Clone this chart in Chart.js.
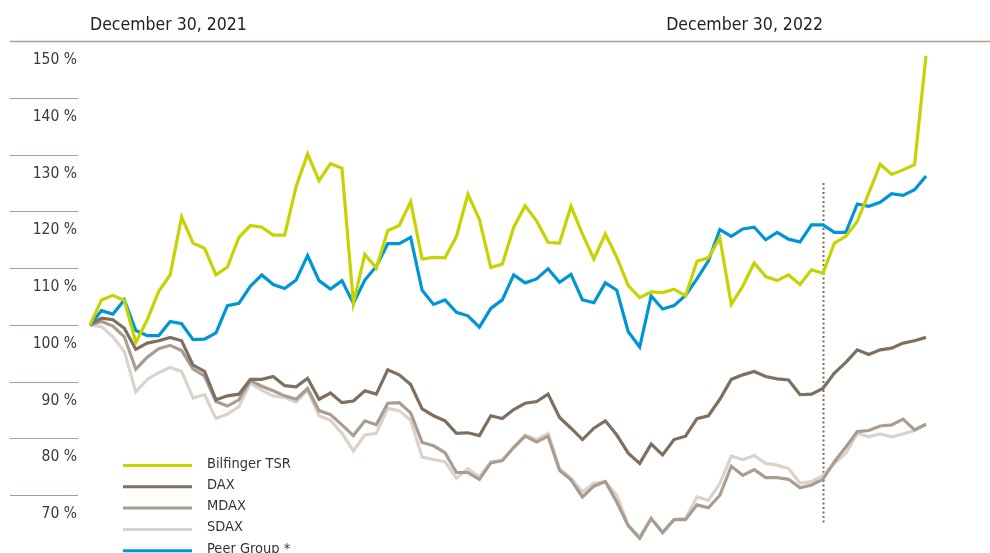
<!DOCTYPE html>
<html>
<head>
<meta charset="utf-8">
<script src="https://cdn.jsdelivr.net/npm/chart.js@4.4.0/dist/chart.umd.min.js"></script>
<style>
  html, body { margin: 0; padding: 0; background: #fff; }
  #wrap { width: 990px; height: 553px; position: relative; }
</style>
</head>
<body>
<div id="wrap"><canvas id="tsrChart"></canvas></div>
<script>
// Weekly index values, 100 % = December 30, 2021
const weeks = Array.from({ length: 74 }, (_, i) => "W" + i);
const bilfinger = [100, 104.4, 105.2, 104.3, 96.9, 100.9, 105.9, 108.8, 119.0, 114.4, 113.5, 108.8, 110.2, 115.4, 117.5, 117.2, 115.8, 115.8, 124.4, 130.1, 125.4, 128.4, 127.6, 103.8, 112.4, 110.0, 116.6, 117.5, 121.7, 111.6, 111.9, 111.8, 115.6, 123.0, 118.6, 110.1, 110.7, 117.2, 121.0, 118.3, 114.5, 114.4, 120.9, 116.0, 111.6, 116.0, 111.9, 106.9, 104.8, 105.8, 105.7, 106.3, 105.1, 111.2, 111.8, 115.3, 103.6, 106.8, 110.9, 108.5, 107.8, 108.8, 107.1, 109.7, 109.1, 114.4, 115.6, 118.2, 123.2, 128.3, 126.5, 127.3, 128.2, 147.4];
const dax = [100, 101.2, 100.9, 99.4, 95.7, 96.8, 97.2, 97.8, 97.2, 92.9, 91.8, 86.8, 87.5, 87.8, 90.4, 90.4, 90.9, 89.3, 89.1, 90.6, 86.9, 88.0, 86.3, 86.6, 88.4, 87.8, 92.1, 91.2, 89.5, 85.2, 84.0, 83.1, 80.9, 81.0, 80.5, 84.0, 83.5, 85.1, 86.2, 86.5, 87.8, 83.7, 81.8, 79.8, 81.8, 83.1, 80.6, 77.4, 75.6, 79.0, 77.1, 79.8, 80.4, 83.5, 84.0, 86.9, 90.4, 91.2, 91.8, 90.9, 90.5, 90.3, 87.7, 87.8, 88.8, 91.5, 93.4, 95.6, 94.8, 95.6, 95.9, 96.8, 97.2, 97.8];
const mdax = [100, 100.6, 99.8, 97.9, 92.2, 94.3, 95.8, 96.4, 95.5, 92.2, 91.0, 86.5, 85.7, 86.8, 90.2, 89.2, 88.4, 87.5, 86.9, 88.8, 84.9, 84.2, 82.4, 80.5, 83.1, 82.4, 86.2, 86.3, 84.5, 79.3, 78.7, 77.5, 74.0, 74.0, 72.8, 75.7, 76.1, 78.4, 80.4, 79.4, 80.4, 74.4, 72.7, 69.7, 71.6, 72.4, 68.8, 64.6, 62.4, 65.9, 63.4, 65.7, 65.7, 68.3, 67.8, 70.0, 75.1, 73.5, 74.5, 73.1, 73.1, 72.8, 71.3, 71.8, 72.8, 75.9, 78.5, 81.2, 81.4, 82.2, 82.4, 83.4, 81.5, 82.5];
const sdax = [100, 99.7, 97.9, 95.3, 88.2, 90.4, 91.6, 92.5, 91.8, 87.1, 87.7, 83.5, 84.3, 85.6, 89.7, 88.5, 87.5, 87.2, 86.4, 88.5, 84.0, 83.2, 80.9, 77.8, 80.6, 80.9, 85.3, 84.9, 83.2, 76.7, 76.3, 75.9, 73.0, 74.7, 73.2, 75.9, 76.1, 78.5, 80.6, 79.8, 80.9, 74.7, 73.0, 70.6, 72.1, 72.4, 70.0, 64.7, 62.7, 65.9, 63.5, 65.7, 65.9, 69.7, 69.1, 72.1, 76.9, 76.3, 77.0, 75.6, 75.3, 74.7, 72.1, 72.4, 73.5, 75.6, 77.4, 80.9, 80.3, 80.8, 80.3, 80.8, 81.4, 82.5];
const peerGroup = [100, 102.5, 101.9, 104.4, 99.0, 98.1, 98.1, 100.6, 100.2, 97.4, 97.5, 98.6, 103.4, 103.8, 106.8, 108.8, 107.1, 106.4, 107.9, 112.2, 107.8, 106.3, 107.8, 103.8, 107.9, 110.3, 114.3, 114.3, 115.4, 106.1, 103.6, 104.4, 102.2, 101.6, 99.6, 102.9, 104.4, 108.8, 107.4, 108.1, 109.9, 107.5, 108.9, 104.4, 103.9, 107.4, 106.1, 98.8, 96.1, 105.1, 102.8, 103.4, 105.2, 108.1, 111.3, 116.8, 115.6, 116.9, 117.2, 115.0, 116.3, 115.1, 114.6, 117.6, 117.6, 116.3, 116.3, 121.3, 120.9, 121.6, 123.1, 122.8, 123.8, 126.2];

const yTicks = [150, 140, 130, 120, 110, 100, 90, 80, 70];
const dateMarks = [
  { index: 0, text: "December 30, 2021", align: "left" },
  { index: 64, text: "December 30, 2022", align: "right" },
];
const markerIndex = 64;

const FONT = '"DejaVu Sans Condensed", "DejaVu Sans", sans-serif';

// Axis labels, short grid lines, header dates, dotted year-end marker, legend
const decorPlugin = {
  id: "decor",
  beforeDatasetsDraw(chart) {
    const ctx = chart.ctx;
    const y = chart.scales.y;
    const x = chart.scales.x;
    ctx.save();

    // top rule + short grid lines on the left
    yTicks.forEach((v) => {
      const py = Math.round(y.getPixelForValue(v)) + 0.5;
      ctx.strokeStyle = "#a99e92";
      ctx.lineWidth = v === 150 ? 1.5 : 1.2;
      ctx.beginPath();
      ctx.moveTo(10, py);
      ctx.lineTo(v === 150 ? 990 : 78, py);
      ctx.stroke();

      ctx.fillStyle = "#3a3a3a";
      ctx.font = "15.5px " + FONT;
      ctx.textAlign = "right";
      ctx.textBaseline = "alphabetic";
      ctx.fillText(v + " %", 77, py + 22);
    });

    // dotted marker at year end
    const mx = Math.round(x.getPixelForValue(markerIndex)) + 0.5;
    ctx.strokeStyle = "#7a6d60";
    ctx.lineWidth = 2;
    ctx.setLineDash([2, 2.5]);
    ctx.beginPath();
    ctx.moveTo(mx, 183);
    ctx.lineTo(mx, 523);
    ctx.stroke();
    ctx.setLineDash([]);

    // header dates
    ctx.fillStyle = "#222";
    ctx.font = "17.5px " + FONT;
    dateMarks.forEach((d) => {
      ctx.textAlign = d.align;
      ctx.fillText(d.text, x.getPixelForValue(d.index), 29.5);
    });

    // legend
    const order = [0, 2, 3, 4, 1];
    ctx.font = "14.5px " + FONT;
    ctx.textAlign = "left";
    order.forEach((di, row) => {
      const ds = chart.data.datasets[di];
      const ly = 465.5 + row * 21.3;
      ctx.strokeStyle = ds.borderColor;
      ctx.lineWidth = 3;
      ctx.beginPath();
      ctx.moveTo(123, ly);
      ctx.lineTo(192, ly);
      ctx.stroke();
      ctx.fillStyle = "#333";
      ctx.fillText(ds.label, 207, ly + 2);
    });

    ctx.restore();
  },
};

function series(label, data, color, order) {
  return {
    label: label,
    data: data,
    borderColor: color,
    borderWidth: 3.2,
    pointRadius: 0,
    tension: 0,
    fill: false,
    order: order,
    borderJoinStyle: "miter",
  };
}

new Chart(document.getElementById("tsrChart"), {
  type: "line",
  data: {
    labels: weeks,
    datasets: [
      series("Bilfinger TSR", bilfinger, "#c6d300", 0),
      series("Peer Group *", peerGroup, "#0095d5", 1),
      series("DAX", dax, "#7e7061", 2),
      series("MDAX", mdax, "#a99d91", 3),
      series("SDAX", sdax, "#dbd3cb", 4),
    ],
  },
  options: {
    responsive: true,
    maintainAspectRatio: false,
    animation: false,
    clip: false,
    layout: { padding: { left: 90, right: 64, top: 41, bottom: 1 } },
    scales: {
      x: { display: false },
      y: { display: false, min: 60, max: 150 },
    },
    plugins: {
      legend: { display: false },
      tooltip: { enabled: false },
    },
  },
  plugins: [decorPlugin],
});
</script>
</body>
</html>
